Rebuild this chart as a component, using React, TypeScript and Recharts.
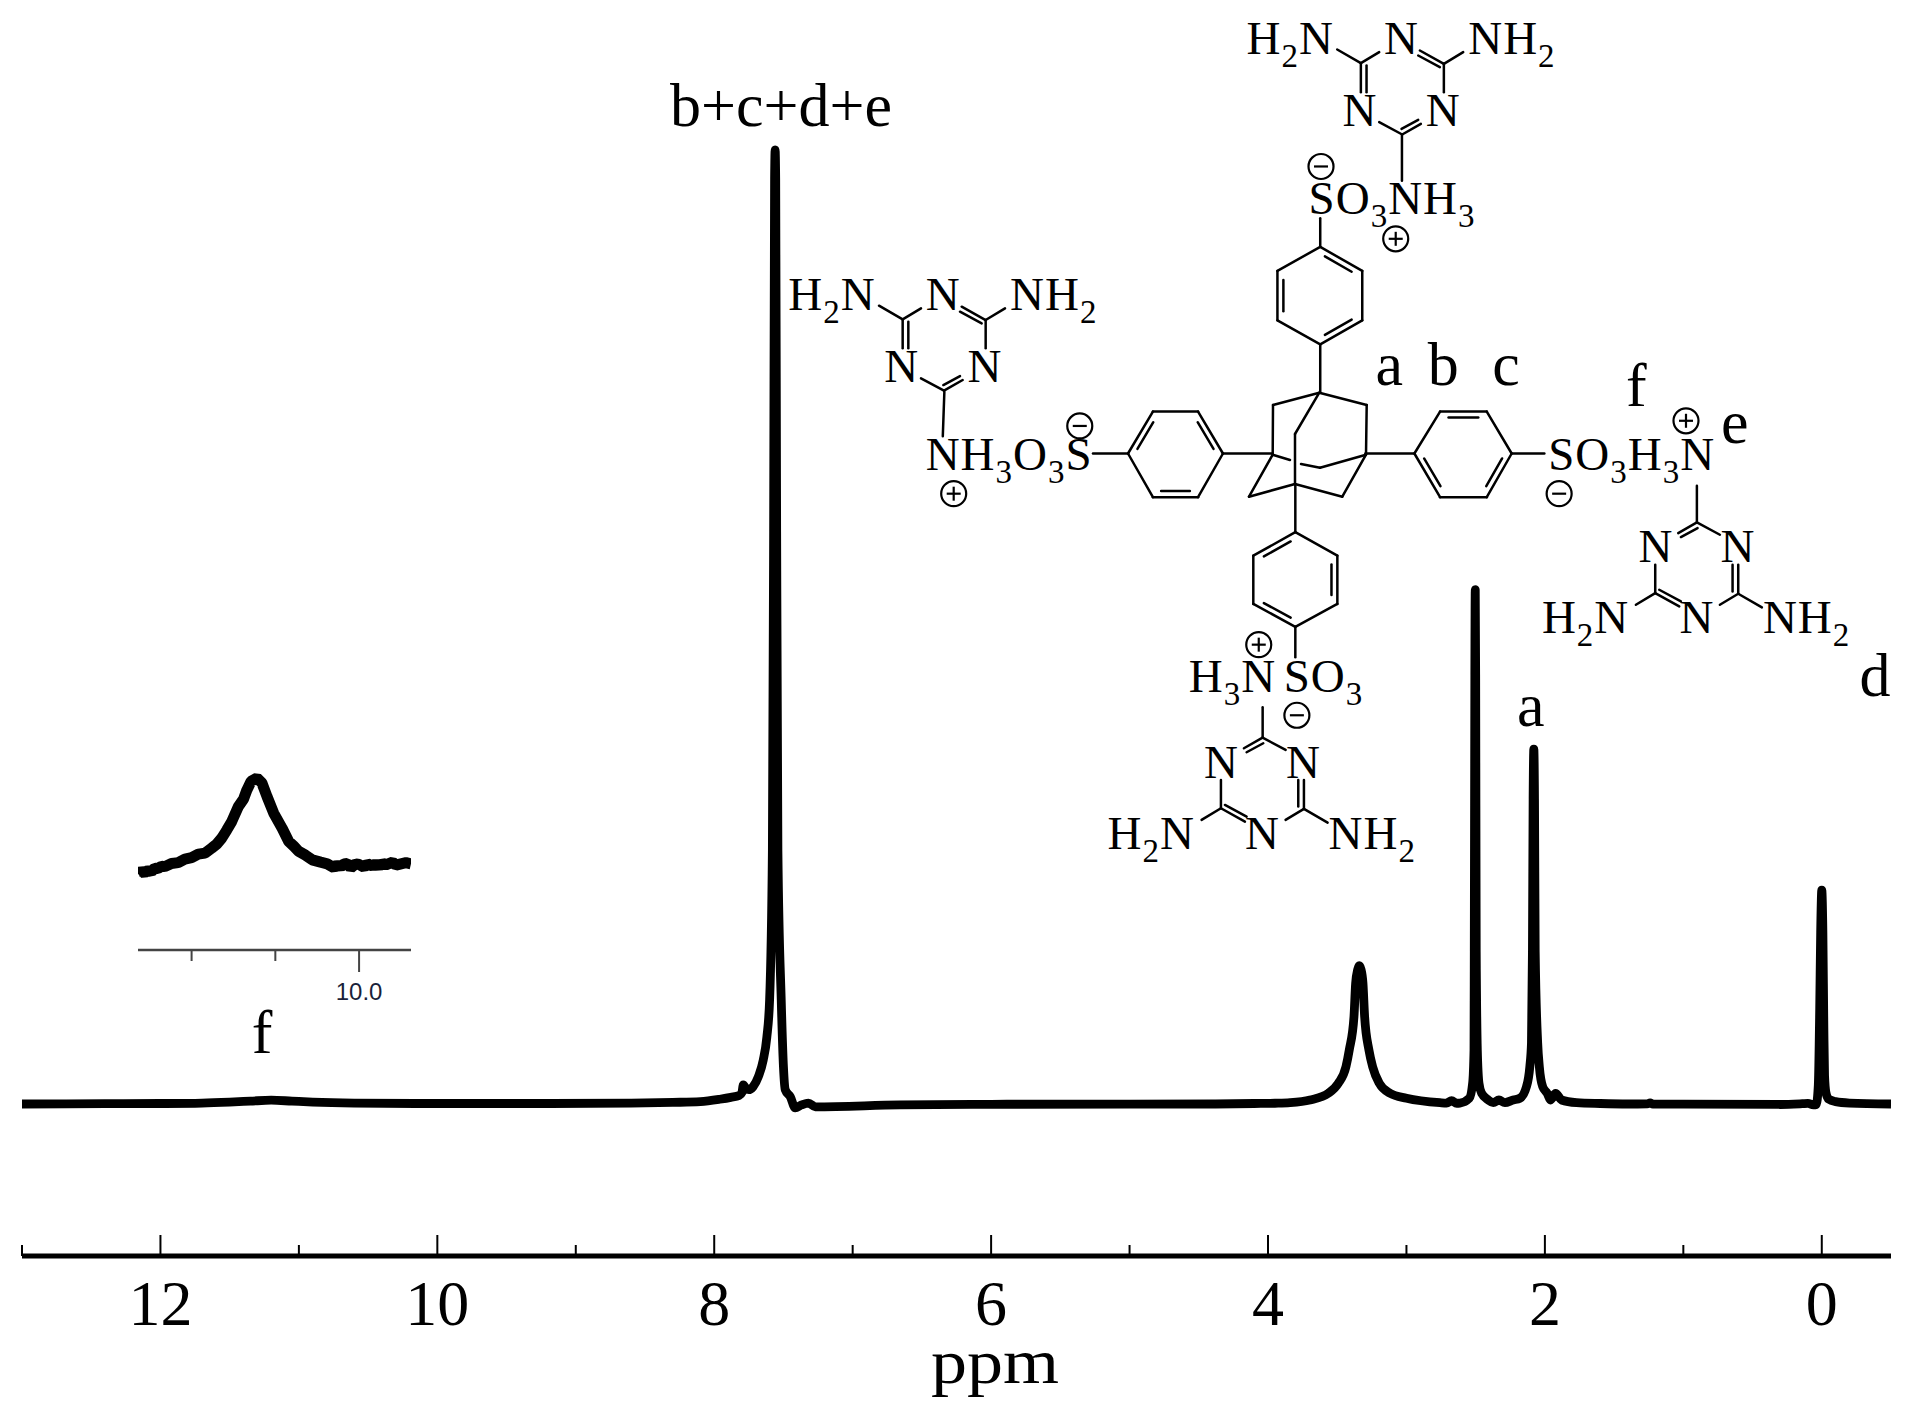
import React from "react";
import { LineChart, Line, XAxis, YAxis } from "recharts";

// ---------- spectrum readings: [ppm, intensity %] ----------
const baselineLeft = [[13,0],[12.4,0.03],[12,0.05],[11.7,0.1],[11.5,0.2],[11.35,0.3],[11.2,0.4],[11.05,0.3],[10.9,0.2],[10.6,0.1],[10,0.05],[9.2,0.05],[8.6,0.1],[8.3,0.17],[8.1,0.25],[7.96,0.5],[7.88,0.7],[7.82,0.9],[7.8,1.2],[7.79,2.0],[7.77,1.6],[7.75,1.5],[7.72,1.8],[7.68,2.9],[7.646,4.6]];
const mainPeak = [[7.62,7],[7.60,10.9],[7.58,26.6],[7.571,60],[7.564,97],[7.56,100],[7.556,97],[7.549,60],[7.54,26.6],[7.516,10.9],[7.50,3.9],[7.487,1.5],[7.45,0.75],[7.415,-0.4],[7.37,-0.1],[7.32,0.1],[7.27,-0.3],[6.66,-0.1],[6,-0.03],[5,-0.02],[4.4,0],[4.1,0.05],[3.95,0.08]];
const waterPeak = [[3.841,0.14],[3.697,0.42],[3.564,1.12],[3.492,2.17],[3.437,3.9],[3.413,5.66],[3.379,9.15],[3.367,12.65],[3.352,14.1],[3.341,14.5],[3.328,14.1],[3.314,12.65],[3.302,9.15],[3.271,5.66],[3.244,3.9],[3.196,2.17],[3.119,1.12],[2.999,0.6],[2.758,0.14],[2.71,0.1],[2.674,0.35],[2.637,0.08]];
const dmsoPeak = [[2.614,0.1],[2.546,0.6],[2.522,2.17],[2.512,5.66],[2.51,16],[2.506,45],[2.503,53.9],[2.5,45],[2.496,16],[2.488,5.66],[2.476,2.17],[2.457,1.12],[2.409,0.42],[2.373,0.14],[2.332,0.42],[2.289,0.14],[2.229,0.42],[2.181,0.6],[2.133,1.82]];
const acetatePeak = [[2.109,3.9],[2.097,6.4],[2.09,16],[2.085,32],[2.08,37.2],[2.075,32],[2.07,16],[2.052,6.4],[2.04,3.9],[2.016,1.82],[1.983,1.12],[1.959,0.42],[1.923,1.12],[1.88,0.42],[1.771,0.14],[1.6,0.05],[1.4,0],[1.26,0.02],[1.24,0.12],[1.22,0],[1,-0.02],[0.3,-0.05],[0.14,0.03],[0.1,0.06],[0.06,-0.1],[0.04,-0.05]];
const tmsPeak = [[0.025,2],[0.015,10],[0.008,18],[0,22.4],[-0.008,18],[-0.015,8],[-0.02,3],[-0.03,1.2],[-0.05,0.5],[-0.1,0.25],[-0.2,0.1],[-0.5,0]];
const spectrum = [...baselineLeft, ...mainPeak, ...waterPeak, ...dmsoPeak, ...acetatePeak, ...tmsPeak].map(([ppm, intensity]) => ({ ppm, intensity }));

const insetPoints = [[11.32,-0.5],[11.3,2],[11.28,0.5],[11.26,2.7],[11.24,1.5],[11.22,5],[11.2,4.7],[11.18,7],[11.16,6.5],[11.12,9.7],[11.08,10.5],[11.04,14],[11,15.5],[10.96,19],[10.92,20],[10.88,25],[10.85,29],[10.82,35],[10.79,43],[10.76,51.7],[10.72,66.7],[10.69,74],[10.67,83],[10.645,91.7],[10.61,95],[10.58,90],[10.55,76.7],[10.51,60],[10.46,45],[10.42,31.7],[10.39,27],[10.36,21.7],[10.32,18],[10.28,13.3],[10.23,11],[10.19,9.3],[10.15,5.5],[10.13,8.5],[10.11,6.3],[10.09,9.3],[10.07,9.8],[10.05,5.2],[10.02,9.3],[10,8.7],[9.97,5.8],[9.95,9.5],[9.92,7],[9.9,9.5],[9.88,6.8],[9.86,10],[9.84,8.3],[9.8,11],[9.78,8],[9.75,9.3],[9.72,10.5],[9.69,9.3]];
const insetData = insetPoints.map(([ppm, intensity]) => ({ ppm, intensity }));

const mainTicks = [0,1,2,3,4,5,6,7,8,9,10,11,12,13];
const insetTicks = [10,10.5,11];
const FONT = '"Liberation Serif", serif';

// ---------- annotations ----------
const bigLabels = [
  { t: "a", x: 868, y: 670 }, { t: "b", x: 935, y: 670 }, { t: "c", x: 1018, y: 670 },
  { t: "f", x: 1190, y: 708 }, { t: "e", x: 1312, y: 772 }, { t: "d", x: 1490, y: 1212 }, { t: "a", x: 1050, y: 1265 },
];
const formulas = [
  { t: "SO3NH3", x: 782, y: 372 }, { t: "NH3O3S", x: 290, y: 818 }, { t: "SO3H3N", x: 1090, y: 818 },
  { t: "H3N", x: 628, y: 1205 }, { t: "SO3", x: 750, y: 1205 },
];
const minusCircles = [[798, 290], [488, 742], [1104, 860], [767, 1246]];
const plusCircles = [[894, 416], [326, 860], [1267, 733], [718, 1123]];
const extraBonds = [
  [797,380,797,430],[797,600,797,683],[672,790,735,790],[505,790,550,790],[855,790,918,790],[1043,790,1085,790],
  [765,843,765,927],[765,1092,765,1145],[1281,846,1281,910],[723,1232,723,1285],[902,235,902,315],[314,683,312,760],
];
const phenyls = [
  { v: [[797,430],[851,472],[851,558],[797,600],[742,558],[742,472]], d: [0,2,4] },
  { v: [[550,790],[582,717],[640,717],[672,790],[640,866],[582,866]], d: [0,2,4] },
  { v: [[918,790],[951,717],[1011,717],[1043,790],[1011,866],[951,866]], d: [1,3,5] },
  { v: [[765,927],[819,968],[819,1052],[765,1092],[711,1052],[711,968]], d: [1,3,5] },
];
const upTriazines = [[1402.2, 134.5], [944, 390.7]];
const downTriazines = [[1696.9, 522.4], [1262.6, 737.6]];
const triazineBonds = [
  [297,137,368,178],[368,178,423,145],[368,178,368,265],[385,185,385,265],[545,140,617,180],[540,155,605,190],
  [617,180,675,145],[617,180,617,265],[423,355,492,392],[492,392,548,360],[490,375,540,348],
];
const adamantane = [
  [1319.3,392.7,1273,405],[1273,405,1272.7,454.7],[1319.3,392.7,1366.7,405],[1366.7,405,1366,454.7],
  [1319.3,392.7,1295,434],[1295,434,1295,484],[1272.7,454.7,1290,460],[1301,464,1320,467.7],[1320,467.7,1366,454.7],
  [1272.7,454.7,1249,496.7],[1249,496.7,1295,484],[1295,484,1342.3,496.7],[1342.3,496.7,1366,454.7],
];

const mx = (x: number) => 700 + x / 1.285;
const my = (y: number) => y / 1.742;

const Bond = ({ a, b, c, d }: any) => <line x1={a} y1={b} x2={c} y2={d} stroke="#000" strokeWidth={2.5} strokeLinecap="round" />;

const Formula = ({ t, x, y, anchor }: any) => {
  const parts = t.split(/(\d)/).filter(Boolean);
  let wasSub = false;
  return (
    <text x={x} y={y} fontFamily={FONT} fontSize={47} letterSpacing={1} fill="#000" textAnchor={anchor || "start"}>
      {parts.map((p: string, i: number) => {
        const sub = /\d/.test(p);
        const dy = sub ? 13 : wasSub ? -13 : 0;
        wasSub = sub;
        return <tspan key={i} dy={dy} fontSize={sub ? 33 : 47}>{p}</tspan>;
      })}
    </text>
  );
};

const Charge = ({ x, y, plus }: any) => (
  <g stroke="#000" strokeWidth={2.2} fill="none">
    <circle cx={x} cy={y} r={12.5} />
    <line x1={x - 7} x2={x + 7} y1={y} y2={y} />
    {plus && <line x1={x} x2={x} y1={y - 7} y2={y + 7} />}
  </g>
);

const Triazine = ({ ox, oy, down }: any) => {
  const s = down ? -1 : 1;
  const R = (v: number, o: number) => (v - o) / 3;
  return (
    <g>
      {triazineBonds.map((b, i) => (
        <Bond key={i} a={ox + s * R(b[0], 492)} b={oy + s * R(b[1], 392)} c={ox + s * R(b[2], 492)} d={oy + s * R(b[3], 392)} />
      ))}
      {down ? (
        <g>
          <Formula t="N" x={ox - 41} y={oy + 40} anchor="middle" />
          <Formula t="N" x={ox + 41} y={oy + 40} anchor="middle" />
          <Formula t="H2N" x={ox - 155} y={oy + 111} />
          <Formula t="N" x={ox} y={oy + 111} anchor="middle" />
          <Formula t="NH2" x={ox + 66} y={oy + 111} />
        </g>
      ) : (
        <g>
          <Formula t="H2N" x={ox - 155.7} y={oy - 80.7} />
          <Formula t="N" x={ox - 0.7} y={oy - 80.7} anchor="middle" />
          <Formula t="NH2" x={ox + 66} y={oy - 80.7} />
          <Formula t="N" x={ox - 42.3} y={oy - 9} anchor="middle" />
          <Formula t="N" x={ox + 41} y={oy - 9} anchor="middle" />
        </g>
      )}
    </g>
  );
};

const Phenyl = ({ v, d }: any) => {
  const cx = v.reduce((s: number, p: number[]) => s + p[0], 0) / 6;
  const cy = v.reduce((s: number, p: number[]) => s + p[1], 0) / 6;
  return (
    <g>
      {v.map((p: number[], i: number) => {
        const q = v[(i + 1) % 6];
        const A = [mx(p[0]), my(p[1])], B = [mx(q[0]), my(q[1])], C = [mx(cx), my(cy)];
        const inner = (P: number[], Q: number[]) => {
          const t = 0.14, e = 0.13;
          const px = P[0] + (Q[0] - P[0]) * e, py = P[1] + (Q[1] - P[1]) * e;
          return [px + (C[0] - px) * t, py + (C[1] - py) * t];
        };
        const I = inner(A, B), J = inner(B, A);
        return (
          <g key={i}>
            <Bond a={A[0]} b={A[1]} c={B[0]} d={B[1]} />
            {d.includes(i) && <Bond a={I[0]} b={I[1]} c={J[0]} d={J[1]} />}
          </g>
        );
      })}
    </g>
  );
};

const Annotations = () => (
  <svg width={1920} height={1422} style={{ position: "absolute", left: 0, top: 0, pointerEvents: "none" }}>
    <text x={781} y={126} textAnchor="middle" fontFamily={FONT} fontSize={62} fill="#000">b+c+d+e</text>
    <text x={262} y={1053} textAnchor="middle" fontFamily={FONT} fontSize={62} fill="#000">f</text>
    <text x={995} y={1383} textAnchor="middle" fontFamily={FONT} fontSize={64} textLength={128} lengthAdjust="spacingAndGlyphs" fill="#000">ppm</text>
    {bigLabels.map((l, i) => (
      <text key={i} x={mx(l.x)} y={my(l.y)} fontFamily={FONT} fontSize={62} fill="#000">{l.t}</text>
    ))}
    {formulas.map((f, i) => <Formula key={i} t={f.t} x={mx(f.x)} y={my(f.y)} />)}
    {minusCircles.map((c, i) => <Charge key={i} x={mx(c[0])} y={my(c[1])} />)}
    {plusCircles.map((c, i) => <Charge key={i} x={mx(c[0])} y={my(c[1])} plus />)}
    {extraBonds.map((b, i) => <Bond key={i} a={mx(b[0])} b={my(b[1])} c={mx(b[2])} d={my(b[3])} />)}
    {adamantane.map((b, i) => <Bond key={i} a={b[0]} b={b[1]} c={b[2]} d={b[3]} />)}
    {phenyls.map((p, i) => <Phenyl key={i} v={p.v} d={p.d} />)}
    {upTriazines.map((t, i) => <Triazine key={i} ox={t[0]} oy={t[1]} />)}
    {downTriazines.map((t, i) => <Triazine key={i} ox={t[0]} oy={t[1]} down />)}
  </svg>
);

const MainTick = ({ x, y, payload }: any) => {
  const v = payload.value;
  const major = v % 2 === 0;
  return (
    <g>
      <line x1={x} x2={x} y1={y} y2={y - (major ? 21 : 11)} stroke="#000" strokeWidth={2} />
      {major && (
        <text x={x} y={y + 69} textAnchor="middle" fontFamily={FONT} fontSize={64} fill="#000">{v}</text>
      )}
    </g>
  );
};

const InsetTick = ({ x, y, payload }: any) => {
  const v = payload.value;
  const major = v === 10;
  return (
    <g>
      <line x1={x} x2={x} y1={y} y2={y + (major ? 22 : 11)} stroke="#444" strokeWidth={2} />
      {major && (
        <text x={x} y={y + 50} textAnchor="middle" fontFamily='"Liberation Sans", sans-serif' fontSize={24} fill="#1a1f3a">10.0</text>
      )}
    </g>
  );
};

export default function App() {
  return (
    <div style={{ position: "absolute", left: 0, top: 0, width: 1920, height: 1422, background: "#fff" }}>
      <div style={{ position: "absolute", left: 0, top: 0 }}>
        <LineChart width={1920} height={1422} data={spectrum} margin={{ top: 0, right: 29, bottom: 0, left: 22 }}>
          <XAxis
            dataKey="ppm" type="number" domain={[-0.5, 13]} reversed allowDataOverflow
            ticks={mainTicks} interval={0} height={166} tickLine={false} tickSize={0} tickMargin={0}
            axisLine={{ stroke: "#000", strokeWidth: 5 }} tick={<MainTick />}
          />
          <YAxis hide type="number" domain={[-15.93, 115.7]} allowDataOverflow />
          <Line dataKey="intensity" type="monotoneX" stroke="#000" strokeWidth={8.8} strokeLinejoin="round" strokeLinecap="butt" dot={false} activeDot={false} isAnimationActive={false} />
        </LineChart>
      </div>
      <div style={{ position: "absolute", left: 138, top: 773 }}>
        <LineChart width={273} height={237} data={insetData} margin={{ top: 0, right: 0, bottom: 0, left: 0 }}>
          <XAxis
            dataKey="ppm" type="number" domain={[9.69, 11.32]} reversed allowDataOverflow
            ticks={insetTicks} interval={0} height={60} tickLine={false} tickSize={0} tickMargin={0}
            axisLine={{ stroke: "#444", strokeWidth: 2.5 }} tick={<InsetTick />}
          />
          <YAxis hide type="number" domain={[-76.7, 100]} allowDataOverflow />
          <Line dataKey="intensity" type="linear" stroke="#000" strokeWidth={11} strokeLinejoin="bevel" dot={false} activeDot={false} isAnimationActive={false} />
        </LineChart>
      </div>
      <Annotations />
    </div>
  );
}
